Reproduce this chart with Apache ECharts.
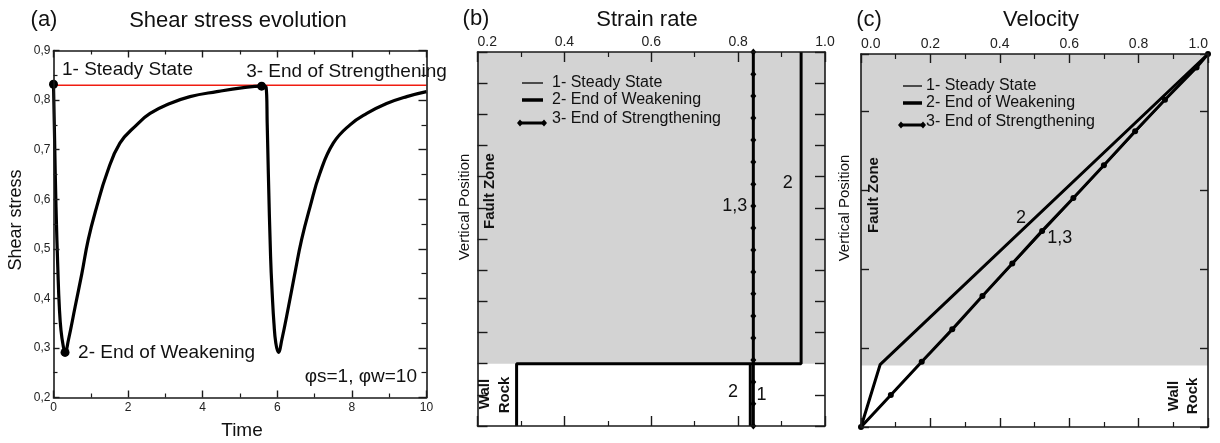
<!DOCTYPE html>
<html>
<head>
<meta charset="utf-8">
<script src="https://cdn.jsdelivr.net/npm/echarts@6/dist/echarts.min.js"></script>
<style>
  html, body { margin: 0; padding: 0; background: #fff; }
  #chart { width: 1220px; height: 443px; }
</style>
</head>
<body>
<div id="chart"></div>
<script>
const FONT = '"Liberation Sans", Arial, Helvetica, sans-serif';

// ---------- (a) Shear stress evolution ----------
const stressTime = [0.00, 0.03, 0.067, 0.12, 0.156, 0.20, 0.263, 0.31, 0.40, 0.58, 0.76, 0.93, 1.16, 1.43, 1.78, 2.23, 2.59, 3.12, 3.66, 4.38, 5.09, 5.58, 5.70, 5.73, 5.76, 5.82, 5.87, 5.91, 5.96, 6.03, 6.12, 6.30, 6.47, 6.65, 6.88, 7.14, 7.50, 7.95, 8.40, 8.93, 9.47, 10.0];
const stressValue = [0.832, 0.719, 0.585, 0.451, 0.383, 0.336, 0.303, 0.291, 0.316, 0.383, 0.450, 0.518, 0.585, 0.652, 0.713, 0.750, 0.773, 0.793, 0.807, 0.817, 0.825, 0.828, 0.826, 0.750, 0.652, 0.484, 0.400, 0.350, 0.310, 0.291, 0.316, 0.383, 0.450, 0.518, 0.585, 0.652, 0.713, 0.750, 0.773, 0.793, 0.807, 0.817];
const steadyLevel = 0.83;
const steadySpan = [-0.78, 10];
const stageTime = [0, 0.31, 5.58];
const stageStress = [0.832, 0.291, 0.828];
const stageNames = ['1- Steady State', '2- End of Weakening', '3- End of Strengthening'];

// ---------- (b) Strain rate ----------
const bPositions = [0, 0.71, 1.41, 2.12, 2.82, 3.53, 4.24, 4.94, 5.65, 6.35, 7.06, 7.76, 8.47, 9.18, 9.88, 10.59, 11.29, 12];
const bStrain3 = [0.835, 0.835, 0.835, 0.835, 0.835, 0.835, 0.835, 0.835, 0.835, 0.835, 0.835, 0.835, 0.835, 0.835, 0.835, 0.835, 0.835, 0.835];
const bStrain1 = [0.835, 0.835];
const bStrain1Pos = [0, 12];
const bStrain2 = [0.29, 0.29, 0.945, 0.945];
const bStrain2Pos = [0, 2, 2, 12];
const bStrain2Wall = [0.828, 0.828];
const bStrain2WallPos = [0, 2];
const bFaultZone = [2, 12];

// ---------- (c) Velocity ----------
const cVelocity3 = [0, 0.086, 0.175, 0.263, 0.350, 0.436, 0.522, 0.612, 0.700, 0.790, 0.876, 0.967, 1.0];
const cPosition3 = [0, 0.406, 0.828, 1.238, 1.660, 2.074, 2.487, 2.905, 3.320, 3.750, 4.150, 4.560, 4.73];
const cVelocity1 = [0, 1.0];
const cPosition1 = [0, 4.73];
const cVelocity2 = [0, 0.055, 1.0];
const cPosition2 = [0, 0.79, 4.73];
const cFaultZone = [0.78, 4.73];

const legendNames = ['1- Steady State', '2- End of Weakening', '3- End of Strengthening'];

const pairs = (xs, ys) => xs.map((x, i) => [x, ys[i]]);

const INK = '#111';
const AXIS = '#1a1a1a';
const ZONE = '#d3d3d3';

function frameAxis(gridIndex, position, range, opt) {
  return {
    type: 'value', gridIndex, position,
    min: range[0], max: range[1], interval: range[2],
    z: 10,
    axisLine: { show: true, onZero: false, lineStyle: { color: AXIS, width: 1.6 } },
    axisTick: { show: true, inside: true, length: opt.tick, lineStyle: { color: AXIS, width: 1.4 } },
    minorTick: opt.minor ? { show: true, splitNumber: 2, length: opt.minor, lineStyle: { color: AXIS, width: 1.2 } } : { show: false },
    axisLabel: opt.label ? Object.assign({ show: true, color: '#222', fontFamily: FONT }, opt.label) : { show: false },
    splitLine: { show: false },
    minorSplitLine: { show: false }
  };
}

function noteMarks(items, size) {
  return {
    symbol: 'rect', symbolSize: 1,
    itemStyle: { color: 'rgba(0,0,0,0)' },
    label: { show: true, position: 'inside', color: INK, fontFamily: FONT, fontSize: size, formatter: p => p.name },
    data: items.map(d => ({ name: d[2], coord: [d[0], d[1]] }))
  };
}

// annotation anchors in data units
const bNotes = [[0.914, 7.8, '2'], [0.788, 1.09, '2'], [0.854, 0.99, '1']];
const cNotes = [[0.461, 2.65, '2']];

function text(x, y, s, size, extra) {
  const e = extra || {};
  return {
    type: 'text', x, y, z: 100, silent: true, rotation: e.rotation || 0,
    style: {
      text: s, fontSize: size, fontFamily: FONT, fontWeight: e.weight || 'normal', fill: INK,
      align: e.align || 'center', verticalAlign: 'middle',
      textAlign: e.align || 'center', textVerticalAlign: 'middle'
    }
  };
}
function seg(x1, y1, x2, y2, w) {
  return { type: 'line', z: 100, silent: true, shape: { x1, y1, x2, y2 }, style: { stroke: '#000', lineWidth: w } };
}
function diamond(x, y) {
  return { type: 'polygon', z: 101, silent: true, shape: { points: [[x, y - 3.5], [x + 3, y], [x, y + 3.5], [x - 3, y]] }, style: { fill: '#000' } };
}
function legendBlock(x0, x1, xt, rows) {
  return [
    seg(x0, rows[0], x1, rows[0], 1.3),
    text(xt, rows[0], legendNames[0], 16, { align: 'left' }),
    seg(x0, rows[1], x1, rows[1], 3.5),
    text(xt, rows[1], legendNames[1], 16, { align: 'left' }),
    seg(x0 - 2, rows[3], x1 + 1, rows[3], 3),
    diamond(x0 - 2, rows[3]), diamond(x1 + 1, rows[3]),
    text(xt, rows[2], legendNames[2], 16, { align: 'left' })
  ];
}

const graphics = [
  text(44, 20, '(a)', 22),
  text(238, 21, 'Shear stress evolution', 22),
  text(476, 19, '(b)', 22),
  text(647, 20, 'Strain rate', 22),
  text(869, 20, '(c)', 22),
  text(1041, 20, 'Velocity', 22),
  text(242, 431, 'Time', 19),
  text(16, 220, 'Shear stress', 18, { rotation: Math.PI / 2 }),
  text(465, 207, 'Vertical Position', 15, { rotation: Math.PI / 2 }),
  text(845, 208, 'Vertical Position', 15, { rotation: Math.PI / 2 }),
  text(490, 191, 'Fault Zone', 15, { rotation: Math.PI / 2, weight: 'bold' }),
  text(874, 195, 'Fault Zone', 15, { rotation: Math.PI / 2, weight: 'bold' }),
  text(485, 394, 'Wall', 15, { rotation: Math.PI / 2, weight: 'bold' }),
  text(505, 395, 'Rock', 15, { rotation: Math.PI / 2, weight: 'bold' }),
  text(1174, 396, 'Wall', 15, { rotation: Math.PI / 2, weight: 'bold' }),
  text(1193, 396, 'Rock', 15, { rotation: Math.PI / 2, weight: 'bold' }),
  text(417, 377, 'φs=1, φw=10', 19, { align: 'right' })
].concat(
  legendBlock(522, 543, 552, [83, 100, 119, 123]),
  legendBlock(903, 922, 926, [86, 103, 122, 125])
);

const stageLabelOffsets = [[-1, -14.5], [3.5, 0], [-25, -14]];

const option = {
  animation: false,
  backgroundColor: '#fff',
  textStyle: { fontFamily: FONT },
  grid: [
    { left: 53.5, top: 50.5, width: 373, height: 347, outerBoundsMode: 'none' },
    { left: 477.5, top: 52, width: 347.5, height: 374, outerBoundsMode: 'none' },
    { left: 861, top: 54, width: 347, height: 373, outerBoundsMode: 'none' }
  ],
  xAxis: [
    frameAxis(0, 'bottom', [0, 10, 2], { tick: 7, minor: 4, label: { fontSize: 12, margin: 4, formatter: v => String(v) } }),
    frameAxis(0, 'top', [0, 10, 2], { tick: 7, minor: 4 }),
    frameAxis(1, 'top', [0.2, 1.0, 0.2], { tick: 10, minor: 5, label: { fontSize: 14, margin: 3, formatter: v => v.toFixed(1), alignMinLabel: 'left' } }),
    frameAxis(1, 'bottom', [0.2, 1.0, 0.2], { tick: 10, minor: 5 }),
    frameAxis(2, 'top', [0, 1, 0.2], { tick: 9, minor: 5, label: { fontSize: 14, margin: 3, formatter: v => v.toFixed(1), alignMinLabel: 'left', alignMaxLabel: 'right' } }),
    frameAxis(2, 'bottom', [0, 1, 0.2], { tick: 9, minor: 5 })
  ],
  yAxis: [
    frameAxis(0, 'left', [0.2, 0.9, 0.1], { tick: 6, minor: 4, label: { fontSize: 12, margin: 3, formatter: v => v.toFixed(1).replace('.', ',') } }),
    frameAxis(0, 'right', [0.2, 0.9, 0.1], { tick: 8, minor: 5 }),
    frameAxis(1, 'left', [0, 12, 1], { tick: 10 }),
    frameAxis(1, 'right', [0, 12, 1], { tick: 10 }),
    frameAxis(2, 'left', [0, 4.73, 1], { tick: 8 }),
    frameAxis(2, 'right', [0, 4.73, 1], { tick: 8 })
  ],
  graphic: { elements: graphics },
  series: [
    // (a)
    {
      type: 'line', xAxisIndex: 0, yAxisIndex: 0, clip: false, symbol: 'none', z: 3,
      lineStyle: { color: '#f01c10', width: 1.6 },
      data: steadySpan.map(t => [t, steadyLevel])
    },
    {
      type: 'line', xAxisIndex: 0, yAxisIndex: 0, symbol: 'none', z: 4,
      smooth: 0.45,
      lineStyle: { color: '#000', width: 3.2 },
      data: pairs(stressTime, stressValue)
    },
    {
      type: 'scatter', xAxisIndex: 0, yAxisIndex: 0, z: 5, symbolSize: 9,
      itemStyle: { color: '#000', opacity: 1 },
      data: stageTime.map((t, i) => ({
        value: [t, stageStress[i]],
        label: { show: true, position: 'right', offset: stageLabelOffsets[i], formatter: stageNames[i], color: INK, opacity: 1, fontFamily: FONT, fontSize: 19 }
      }))
    },
    // (b)
    {
      name: legendNames[0], type: 'line', xAxisIndex: 2, yAxisIndex: 2, symbol: 'none', z: 3,
      lineStyle: { color: '#000', width: 1.3 },
      data: pairs(bStrain1, bStrain1Pos),
      markArea: { silent: true, itemStyle: { color: ZONE }, data: [[{ yAxis: bFaultZone[0] }, { yAxis: bFaultZone[1] }]] }
    },
    {
      name: legendNames[1], type: 'line', xAxisIndex: 2, yAxisIndex: 2, symbol: 'none', z: 4,
      lineStyle: { color: '#000', width: 3 },
      data: pairs(bStrain2, bStrain2Pos),
      markPoint: noteMarks(bNotes, 18)
    },
    {
      name: legendNames[1], type: 'line', xAxisIndex: 2, yAxisIndex: 2, symbol: 'none', z: 4,
      lineStyle: { color: '#000', width: 3 },
      data: pairs(bStrain2Wall, bStrain2WallPos)
    },
    {
      name: legendNames[2], type: 'line', xAxisIndex: 2, yAxisIndex: 2, z: 5,
      symbol: 'diamond', symbolSize: [6, 7], showSymbol: true,
      itemStyle: { color: '#000' }, lineStyle: { color: '#000', width: 3 },
      data: bStrain3.map((v, i) => i === 10
        ? { value: [v, bPositions[i]], label: { show: true, position: 'left', distance: 3, formatter: '1,3', color: INK, fontFamily: FONT, fontSize: 18 } }
        : [v, bPositions[i]])
    },
    // (c)
    {
      name: legendNames[0], type: 'line', xAxisIndex: 4, yAxisIndex: 4, symbol: 'none', z: 3,
      lineStyle: { color: '#000', width: 1.3 },
      data: pairs(cVelocity1, cPosition1),
      markArea: { silent: true, itemStyle: { color: ZONE }, data: [[{ yAxis: cFaultZone[0] }, { yAxis: cFaultZone[1] }]] }
    },
    {
      name: legendNames[1], type: 'line', xAxisIndex: 4, yAxisIndex: 4, symbol: 'none', z: 4,
      lineStyle: { color: '#000', width: 3 },
      data: pairs(cVelocity2, cPosition2),
      markPoint: noteMarks(cNotes, 18)
    },
    {
      name: legendNames[2], type: 'line', xAxisIndex: 4, yAxisIndex: 4, z: 5,
      symbol: 'circle', symbolSize: 6, showSymbol: true,
      itemStyle: { color: '#000' }, lineStyle: { color: '#000', width: 3 },
      data: cVelocity3.map((v, i) => i === 6
        ? { value: [v, cPosition3[i]], label: { show: true, position: 'right', offset: [-3, 7], formatter: '1,3', color: INK, fontFamily: FONT, fontSize: 18 } }
        : [v, cPosition3[i]])
    }
  ]
};

const chart = echarts.init(document.getElementById('chart'), null, { renderer: 'canvas' });
chart.setOption(option);
</script>
</body>
</html>
